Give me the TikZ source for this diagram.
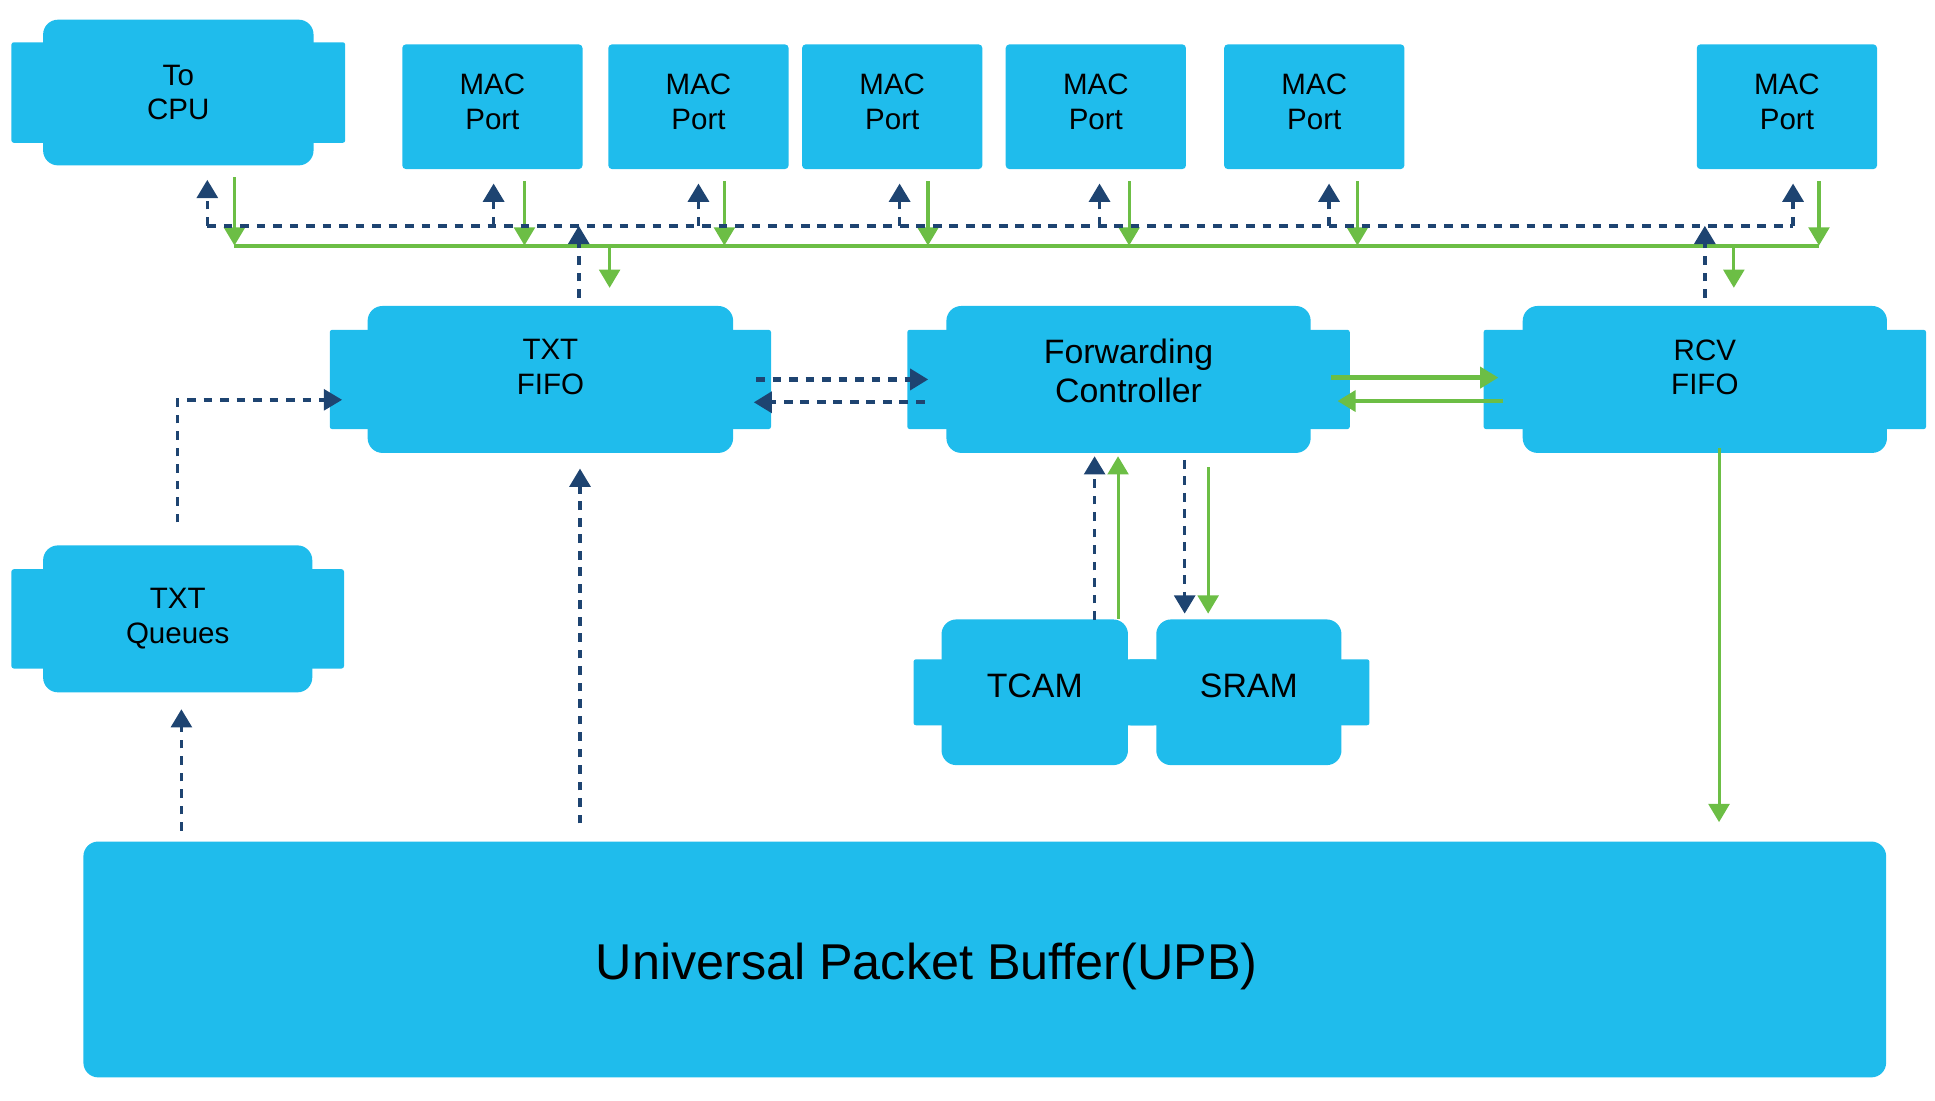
\documentclass[tikz,border=0pt]{standalone}
\usepackage{fontspec}
\setmainfont{Liberation Sans}
\usetikzlibrary{arrows.meta,calc,backgrounds}

\definecolor{boxblue}{RGB}{31,188,236}
\definecolor{navy}{RGB}{30,68,113}
\definecolor{lgreen}{RGB}{108,190,69}

\tikzset{
  blk/.style={fill=boxblue, rounded corners=0.12cm, align=center, inner sep=0pt},
  port/.style={fill=boxblue, rounded corners=0.03cm, align=center, inner sep=0pt,
    minimum width=1.46cm, minimum height=1.01cm, text depth=0.08cm, font=\fontsize{6.8}{8}\selectfont},
  small/.style={font=\fontsize{6.8}{8}\selectfont},
  big/.style={font=\fontsize{7.8}{9.1}\selectfont},
  ctl/.style={navy, line width=0.8pt, dash pattern=on 2pt off 1.8pt, -{Triangle[width=4.8pt,length=4.2pt]}},
  dat/.style={lgreen, line width=0.7pt, -{Triangle[width=4.8pt,length=4.2pt]}}
}

\begin{document}
\begin{tikzpicture}[x=0.01cm,y=-0.01cm]
\useasboundingbox (0,0) rectangle (1568,892);

% top row
\node[blk, small, minimum width=2.19cm, minimum height=1.18cm] (cpu) at (144.5,75) {To\\CPU};
\foreach \p/\x in {mac1/399, mac2/566, mac3/723, mac4/888, mac5/1065, mac6/1448}
  \node[port] (\p) at (\x,86.5) {MAC\\Port};

% middle row
\node[blk, small, minimum width=2.96cm, minimum height=1.19cm, text depth=0.2cm] (txtfifo) at (446,307.5) {TXT\\FIFO};
\node[blk, big, minimum width=2.95cm, minimum height=1.19cm, text depth=0.14cm] (fwd) at (914.5,307.5) {Forwarding\\Controller};
\node[blk, small, minimum width=2.95cm, minimum height=1.19cm, text depth=0.2cm] (rcv) at (1381.5,307.5) {RCV\\FIFO};

\node[blk, small, minimum width=2.18cm, minimum height=1.19cm] (txtq) at (144,501.5) {TXT\\Queues};
\node[blk, big, minimum width=1.51cm, minimum height=1.18cm, text depth=0.1cm] (tcam) at (838.5,561) {TCAM};
\node[blk, big, minimum width=1.50cm, minimum height=1.18cm, text depth=0.1cm] (sram) at (1012,561) {SRAM};

\node[blk, minimum width=14.6cm, minimum height=1.91cm, text height=0.42cm, text depth=0.1cm,
  font=\fontsize{11.6}{14}\selectfont] (upb) at (798,777.5) {Universal Packet Buffer(UPB)\rule{0.94cm}{0pt}};

% side tabs
\begin{scope}[on background layer]
\foreach \n/\dx/\dy in {cpu/25/19, txtfifo/30/20, fwd/31/20, rcv/31/20, txtq/25/20, tcam/22/33, sram/22/33}
  \fill[boxblue, rounded corners=0.02cm] ($(\n.north west)+(-\dx,\dy)$) rectangle ($(\n.south east)+(\dx,-\dy)$);
\end{scope}

% port buses
\foreach \p/\nx/\gx in {cpu/168/190, mac1/400/425, mac2/566/587, mac3/729/752, mac4/891/915, mac5/1077/1100, mac6/1453/1474}{
  \coordinate (n\p) at (\nx,183);
  \coordinate (g\p) at (\gx,199);
  \draw[ctl, shorten >=0.11cm] (n\p) -- (\p.south -| n\p);
  \draw[dat, shorten <=0.09cm] (\p.south -| g\p) -- (g\p);
}
\draw[ctl, -] (ncpu) -- (nmac6);
\draw[dat, -, line width=0.9pt] (gcpu) -- (gmac6);

\draw[ctl] ($(txtfifo.north)+(23,-6)$) -- ($(txtfifo.north |- ncpu)+(23,0)$);
\draw[dat] ($(txtfifo.north |- gcpu)+(48,0)$) -- ($(txtfifo.north)+(48,-14)$);
\draw[ctl] ($(rcv.north)+(0,-6)$) -- (rcv.north |- ncpu);
\draw[dat] ($(rcv.north |- gcpu)+(23.5,0)$) -- ($(rcv.north)+(23.5,-14)$);

% fifo <-> controller
\draw[ctl, line width=1pt] ($(txtfifo.east)+(18,0)$) -- ($(fwd.west)+(-14,0)$);
\draw[ctl, line width=1pt] ($(fwd.west)+(-17,18.5)$) -- ($(txtfifo.east)+(16,18.5)$);
\draw[dat, line width=1pt] ($(fwd.east)+(16,-1.5)$) -- ($(rcv.west)+(-19,-1.5)$);
\draw[dat, line width=1pt] ($(rcv.west)+(-15,17.5)$) -- ($(fwd.east)+(21,17.5)$);

\draw[ctl] ($(txtq.north)+(0,-18)$) |- ($(txtfifo.west)+(-20,16.5)$);
\draw[ctl] ($(upb.north -| txtq.south)+(3,-8)$) -- ($(txtq.south)+(3,13)$);
\draw[ctl] ($(upb.north -| txtfifo.south)+(24,-14)$) -- ($(txtfifo.south)+(24,12)$);
\draw[dat] ($(rcv.south)+(11.5,-5)$) -- ($(upb.north -| rcv.south)+(11.5,-15)$);

% lookups
\draw[ctl] ($(tcam.north)+(48.5,1)$) -- ($(fwd.south)+(-27.5,2)$);
\draw[dat] ($(tcam.north)+(67.5,0)$) -- ($(fwd.south)+(-8.5,2)$);
\draw[ctl] ($(fwd.south)+(45.5,5)$) -- ($(sram.north)+(-52,-4)$);
\draw[dat] ($(fwd.south)+(64.5,11)$) -- ($(sram.north)+(-33,-4)$);

\end{tikzpicture}
\end{document}
